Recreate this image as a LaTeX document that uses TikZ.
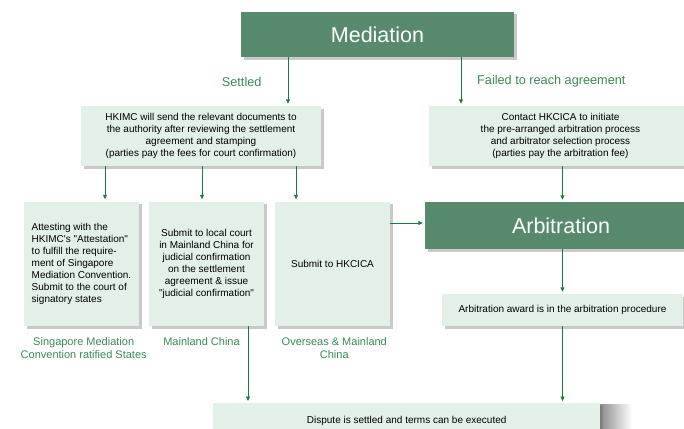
\documentclass[tikz,border=0pt]{standalone}
\usepackage{fontspec}
\setmainfont{Liberation Sans}[Ligatures=TeXOff]
\usetikzlibrary{shadows,arrows.meta}
\definecolor{darkbox}{HTML}{578A6C}
\definecolor{lightbox}{HTML}{E2F0E8}
\definecolor{arrowgreen}{HTML}{1E7B3E}
\definecolor{labelgreen}{HTML}{3A8A56}
\tikzset{
  shad/.style={drop shadow={shadow xshift=2.5pt, shadow yshift=-2.5pt, opacity=0.35, fill=black!60}},
  bigbox/.style={rectangle, fill=darkbox, text=white, inner sep=0pt, shad, font=\fontsize{21.5}{24}\selectfont},
  smallbox/.style={rectangle, fill=lightbox, text=black, inner sep=0pt, shad, align=center, font=\fontsize{10}{12}\selectfont},
  lbl/.style={text=labelgreen, align=center, inner sep=0pt},
  arr/.style={draw=arrowgreen, line width=0.9pt, -{Triangle[length=4.5pt,width=4pt]}, shorten >=2pt}
}
\begin{document}
\begin{tikzpicture}[x=1pt,y=-1pt]
\useasboundingbox[fill=white] (0,0) rectangle (684,428);
% boxes
\node[bigbox, minimum width=273pt, minimum height=45pt] (med) at (377.5,34.5) {Mediation};
\node[smallbox, minimum width=240pt, minimum height=60pt] (hkimc) at (201,136)
  {HKIMC will send the relevant documents to\\the authority after reviewing the settlement\\agreement and stamping\\(parties pay the fees for court confirmation)};
\node[smallbox, minimum width=263pt, minimum height=60pt] (hkcica) at (560.5,136)
  {Contact HKCICA to initiate\\the pre-arranged arbitration process\\and arbitrator selection process\\(parties pay the arbitration fee)};
\node[smallbox, minimum width=115pt, minimum height=124.5pt, align=left] (b1) at (81.5,263.75)
  {Attesting with the\\HKIMC's "Attestation"\\to fulfill the require-\\ment of Singapore\\Mediation Convention.\\Submit to the court of\\signatory states};
\node[smallbox, minimum width=115pt, minimum height=124.5pt] (b2) at (206.5,263.75)
  {Submit to local court\\in Mainland China for\\judicial confirmation\\on the settlement\\agreement \& issue\\"judicial confirmation"};
\node[smallbox, minimum width=115pt, minimum height=124.5pt] (b3) at (332.5,263.75)
  {Submit to HKCICA};
\node[bigbox, minimum width=272pt, minimum height=47pt] (arb) at (561,225.5) {Arbitration};
\node[smallbox, minimum width=241pt, minimum height=32pt] (award) at (562.5,310)
  {Arbitration award is in the arbitration procedure};
\shade[left color=black!45, right color=white] (600,404) rectangle (632,440);
\node[smallbox, minimum width=387pt, minimum height=36pt, anchor=north west, drop shadow={opacity=0}] (final) at (213,403)
  {Dispute is settled and terms can be executed};
% labels
\node[lbl, font=\fontsize{12.7}{15}\selectfont] (lset) at (241.7,81.7) {Settled};
\node[lbl, font=\fontsize{12.7}{15}\selectfont] (lfail) at (551.3,81.7) {Failed to reach agreement};
\node[lbl, font=\fontsize{11}{12.6}\selectfont] (lsg) at (83.7,348) {Singapore Mediation\\Convention ratified States};
\node[lbl, font=\fontsize{11}{12.6}\selectfont] (lmc) at (201.5,341.7) {Mainland China};
\node[lbl, font=\fontsize{11}{12.6}\selectfont] (lov) at (334.3,348) {Overseas \& Mainland\\China};
% x positions
\coordinate (xa) at (288,0);
\coordinate (xb) at (461,0);
\coordinate (x1) at (105,0);
\coordinate (x2) at (202,0);
\coordinate (x3) at (296,0);
\coordinate (xr) at (562.5,0);
\coordinate (xm) at (248,0);
\coordinate (yr) at (0,223);
% arrows
\draw[arr] (med.south -| xa) -- (hkimc.north -| xa);
\draw[arr] (med.south -| xb) -- (hkcica.north -| xb);
\draw[arr] (hkimc.south -| x1) -- (b1.north -| x1);
\draw[arr] (hkimc.south -| x2) -- (b2.north -| x2);
\draw[arr] (hkimc.south -| x3) -- (b3.north -| x3);
\draw[arr] (hkcica.south -| xr) -- (arb.north -| xr);
\draw[arr] (b3.east |- yr) -- (arb.west |- yr);
\draw[arr] (arb.south -| xr) -- (award.north -| xr);
\draw[arr] (award.south -| xr) -- (final.north -| xr);
\draw[arr] (b2.south -| xm) -- (final.north -| xm);
\end{tikzpicture}
\end{document}
